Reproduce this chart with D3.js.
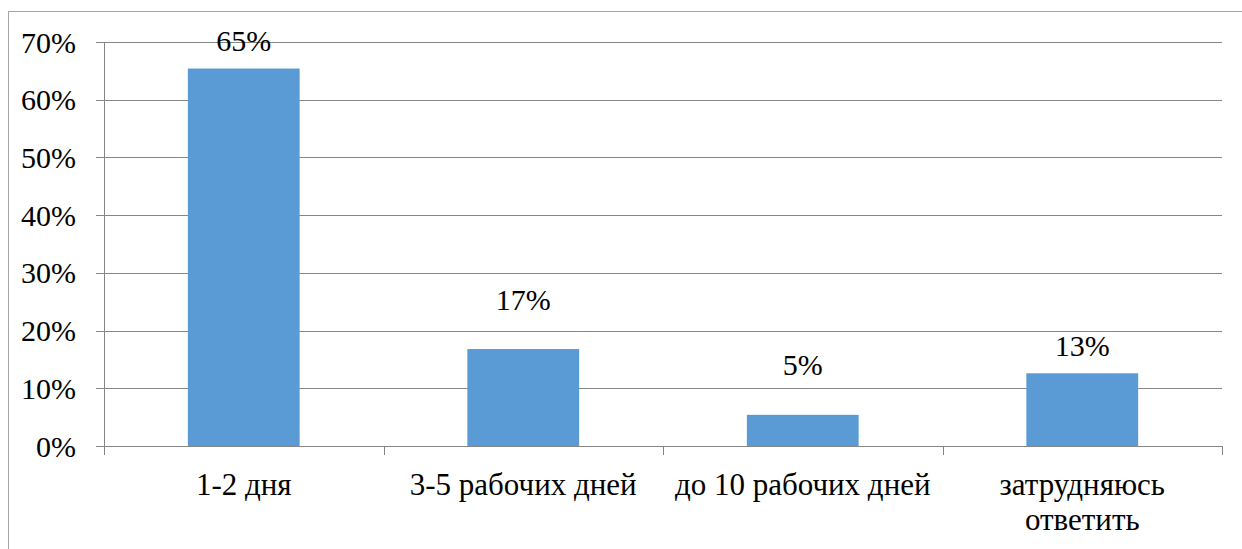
<!DOCTYPE html>
<html>
<head>
<meta charset="utf-8">
<script src="https://cdn.jsdelivr.net/npm/d3@7"></script>
<style>
  body { margin: 0; background: #fff; }
</style>
</head>
<body>
<svg id="chart" width="1242" height="549" font-family="Liberation Serif"></svg>
<script>
// data
const categories = ['1-2 дня', '3-5 рабочих дней', 'до 10 рабочих дней', 'затрудняюсь ответить']
const values = [65.4, 16.8, 5.4, 12.6]
const valueLabels = ['65%', '17%', '5%', '13%']
const yTicks = [0, 10, 20, 30, 40, 50, 60, 70]

// labels were nudged by hand in the original, px above bar top
const labelLift = [28, 50, 50, 28]

const svg = d3.select('#chart')
const W = 1242, H = 549
const plotLeft = 104, plotRight = 1222, plotTop = 42, plotBottom = 446
const fontSize = 30, catFontSize = 31
const serif = 'Liberation Serif'

// chart frame
svg.append('rect')
    .attr('x', 8.5).attr('y', 11.5)
    .attr('width', W).attr('height', H)
    .attr('fill', 'none')
    .attr('stroke', '#a6a6a6')

const x = d3.scaleBand()
    .domain(categories)
    .range([plotLeft, plotRight])
    .paddingInner(0.6)
    .paddingOuter(0.3)

const y = d3.scaleLinear()
    .domain([0, 70])
    .range([plotBottom, plotTop])

// gridlines
svg.append('g')
    .selectAll('line')
    .data(yTicks)
    .enter()
    .append('line')
        .attr('x1', plotLeft - 8)
        .attr('x2', plotRight)
        .attr('y1', d => Math.round(y(d)) + 0.5)
        .attr('y2', d => Math.round(y(d)) + 0.5)
        .attr('stroke', '#868686')
        .attr('stroke-width', 1)

// y labels
svg.append('g')
    .selectAll('text')
    .data(yTicks)
    .enter()
    .append('text')
        .attr('x', 76)
        .attr('y', d => y(d))
        .attr('dy', '0.35em')
        .attr('text-anchor', 'end')
        .attr('font-family', serif)
        .attr('font-size', fontSize)
        .text(d => d + '%')

// bars
svg.append('g')
    .selectAll('rect')
    .data(values)
    .enter()
    .append('rect')
        .attr('x', (d, i) => x(categories[i]))
        .attr('y', d => y(d))
        .attr('width', x.bandwidth())
        .attr('height', d => plotBottom - y(d))
        .attr('fill', '#5b9bd5')

// axes lines
svg.append('line')
    .attr('x1', plotLeft + 0.5).attr('x2', plotLeft + 0.5)
    .attr('y1', plotTop).attr('y2', plotBottom + 8)
    .attr('stroke', '#868686')
svg.append('line')
    .attr('x1', plotLeft).attr('x2', plotRight)
    .attr('y1', plotBottom + 0.5).attr('y2', plotBottom + 0.5)
    .attr('stroke', '#868686')

// category boundary ticks
const step = (plotRight - plotLeft) / categories.length
svg.append('g')
    .selectAll('line')
    .data(d3.range(categories.length + 1))
    .enter()
    .append('line')
        .attr('x1', i => Math.round(plotLeft + i * step) + 0.5)
        .attr('x2', i => Math.round(plotLeft + i * step) + 0.5)
        .attr('y1', plotBottom)
        .attr('y2', plotBottom + 9)
        .attr('stroke', '#868686')

// value labels
svg.append('g')
    .selectAll('text')
    .data(values)
    .enter()
    .append('text')
        .attr('x', (d, i) => x(categories[i]) + x.bandwidth() / 2)
        .attr('y', (d, i) => y(d) - labelLift[i])
        .attr('dy', '0.35em')
        .attr('text-anchor', 'middle')
        .attr('font-family', serif)
        .attr('font-size', fontSize)
        .text((d, i) => valueLabels[i])

// category labels, wrapped where the original wraps
const catLines = c => c === 'затрудняюсь ответить' ? ['затрудняюсь', 'ответить'] : [c]
svg.append('g')
    .selectAll('text')
    .data(categories)
    .enter()
    .append('text')
        .attr('x', d => x(d) + x.bandwidth() / 2)
        .attr('y', 495)
        .attr('text-anchor', 'middle')
        .attr('font-family', serif)
        .attr('font-size', catFontSize)
        .each(function(d) {
            catLines(d).forEach((t, k) => {
                d3.select(this).append('tspan')
                    .attr('x', x(d) + x.bandwidth() / 2)
                    .attr('dy', k === 0 ? 0 : 35)
                    .text(t)
            })
        })
</script>
</body>
</html>
